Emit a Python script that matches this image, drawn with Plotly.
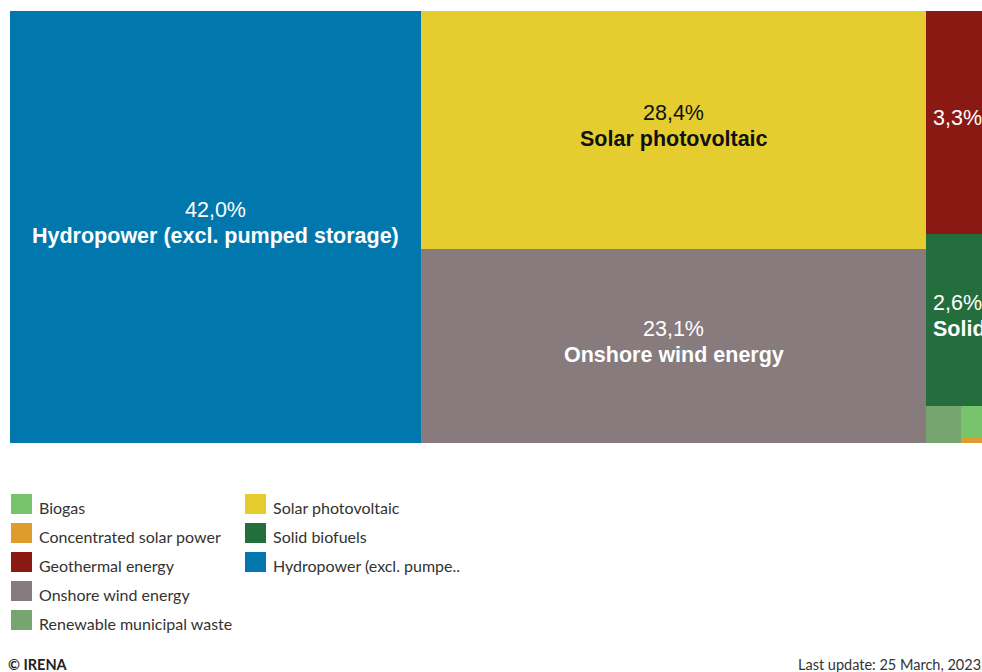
import plotly.graph_objects as go

# ---------------- data ----------------
categories = [
    "Hydropower (excl. pumped storage)",
    "Solar photovoltaic",
    "Onshore wind energy",
    "Geothermal energy",
    "Solid biofuels",
    "Renewable municipal waste",
    "Biogas",
    "Concentrated solar power",
]
shares = [42.0, 28.4, 23.1, 3.33, 2.58, 0.305, 0.206, 0.039]
colors = ["#0078AD", "#E5CD2F", "#877B7E", "#8B1913", "#246D3D", "#77A570", "#78C46D", "#E09B2F"]

legend_col1 = ["Biogas", "Concentrated solar power", "Geothermal energy",
               "Onshore wind energy", "Renewable municipal waste"]
legend_col2 = ["Solar photovoltaic", "Solid biofuels", "Hydropower (excl. pumped storage)"]
legend_names = {"Hydropower (excl. pumped storage)": "Hydropower (excl. pumpe.."}

# grouping used by the slice-and-dice tiling
tiling = [
    ["Hydropower (excl. pumped storage)"],
    ["Solar photovoltaic", "Onshore wind energy"],
    ["Geothermal energy", "Solid biofuels",
     ["Renewable municipal waste", ["Biogas", "Concentrated solar power"]]],
]

footer_left = "© IRENA"
footer_right = "Last update: 25 March, 2023"

# ---------------- layout helpers ----------------
W, H = 982, 672
ML, MT, MB = 10, 11, 229
TREE_W = 979  # full width of the treemap in px (extends past the window)
PLOT_W = W - ML
PLOT_H = H - MT - MB

val = dict(zip(categories, shares))
col = dict(zip(categories, colors))
total = sum(shares)


def node_value(n):
    if isinstance(n, str):
        return val[n]
    return sum(node_value(c) for c in n)


rects = {}


def tile(n, x0, x1, y0, y1, depth):
    if isinstance(n, str):
        rects[n] = (x0, x1, y0, y1)
        return
    tot = node_value(n)
    pos = x0 if depth % 2 == 0 else y0
    for c in n:
        frac = node_value(c) / tot
        if depth % 2 == 0:
            size = (x1 - x0) * frac
            tile(c, pos, pos + size, y0, y1, depth + 1)
        else:
            size = (y1 - y0) * frac
            tile(c, x0, x1, pos, pos + size, depth + 1)
        pos += size


tile(tiling, 0, total, 0, 1, 0)

fig = go.Figure()
for name in categories:
    x0, x1, y0, y1 = rects[name]
    fig.add_trace(go.Bar(
        x=[(x0 + x1) / 2], y=[y1 - y0], base=[y0], width=[x1 - x0],
        marker=dict(color=col[name], line=dict(width=0)),
        name=name, showlegend=False,
        hovertemplate=f"{name}<br>{val[name]:.1f}%<extra></extra>",
    ))

x_per_px = total / TREE_W
y_per_px = 1 / PLOT_H

label_font = "Liberation Sans, Arial, sans-serif"
FS = 21.5
ann = []
for name in categories:
    x0, x1, y0, y1 = rects[name]
    cx, cy = (x0 + x1) / 2, (y0 + y1) / 2
    if (x1 - x0) / x_per_px < 30 or (y1 - y0) / y_per_px < 60:
        continue
    tc = "#111111" if name == "Solar photovoltaic" else "#FFFFFF"
    pct = f"{val[name]:.1f}%".replace(".", ",")
    width_px = (x1 - x0) / x_per_px
    show_name = name != "Geothermal energy"
    if show_name:
        ann.append(dict(x=cx, y=cy, xref="x", yref="y", text=pct, showarrow=False,
                        yshift=17, font=dict(family=label_font, size=FS, color=tc)))
        if width_px < 150:
            ann.append(dict(x=x0 + 5 * x_per_px, y=cy, xref="x", yref="y",
                            text=f"<b>{name}</b>", showarrow=False, xanchor="left",
                            yshift=-9, font=dict(family=label_font, size=FS, color=tc)))
        else:
            ann.append(dict(x=cx, y=cy, xref="x", yref="y", text=f"<b>{name}</b>",
                            showarrow=False, yshift=-9,
                            font=dict(family=label_font, size=FS, color=tc)))
    else:
        ann.append(dict(x=cx, y=cy, xref="x", yref="y", text=pct, showarrow=False,
                        yshift=4, font=dict(family=label_font, size=FS, color=tc)))


def pxx(px):
    return (px - ML) / PLOT_W


def pxy(py):
    return (MT + PLOT_H - py) / PLOT_H


shapes = []
leg_font = dict(family="Lato, Carlito, sans-serif", size=16, color="#333333")
for colx, items in ((11, legend_col1), (245, legend_col2)):
    for i, name in enumerate(items):
        cy = 504 + 29 * i
        shapes.append(dict(type="rect", xref="paper", yref="paper",
                           x0=pxx(colx), x1=pxx(colx + 21), y0=pxy(cy + 10), y1=pxy(cy - 10),
                           fillcolor=col[name], line=dict(width=0)))
        ann.append(dict(x=pxx(colx + 26), y=pxy(cy + 3), xref="paper", yref="paper",
                        text=legend_names.get(name, name), showarrow=False,
                        xanchor="left", yanchor="middle", font=leg_font))

ann.append(dict(x=pxx(6), y=pxy(664), xref="paper", yref="paper", text=f"<b>{footer_left}</b>",
                showarrow=False, xanchor="left", yanchor="middle",
                font=dict(family="Lato, sans-serif", size=14.5, color="#222222")))
ann.append(dict(x=pxx(983), y=pxy(664), xref="paper", yref="paper", text=footer_right,
                showarrow=False, xanchor="right", yanchor="middle",
                font=dict(family="Lato, sans-serif", size=14.5, color="#333333")))

fig.update_layout(
    width=W, height=H, autosize=False,
    margin=dict(l=ML, r=0, t=MT, b=MB, pad=0),
    paper_bgcolor="white", plot_bgcolor="white",
    barmode="overlay", bargap=0,
    xaxis=dict(range=[0, PLOT_W * x_per_px], visible=False, fixedrange=True),
    yaxis=dict(range=[1, 0], visible=False, fixedrange=True),
    annotations=ann, shapes=shapes,
    showlegend=False,
)

fig.write_html("out.html")
